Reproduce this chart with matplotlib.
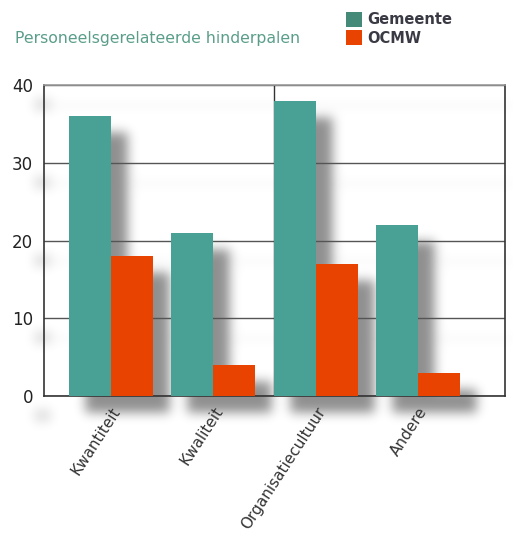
import numpy as np
import matplotlib
matplotlib.use('Agg')
import matplotlib.pyplot as plt

categories = ['Kwantiteit', 'Kwaliteit', 'Organisatiecultuur', 'Andere']
gemeente = [36, 21, 38, 22]
ocmw = [18, 4, 17, 3]
series_names = ['Gemeente', 'OCMW']
yticks = [0, 10, 20, 30, 40]

teal = '#49a094'
orange = '#e84300'

W, H = 513, 534
fig = plt.figure(figsize=(W / 100, H / 100), dpi=100)
ax = fig.add_axes([0.0858, 0.2584, 0.8986, 0.5824])
ax.set_facecolor('none')

x = np.arange(len(categories))
w = 0.41

ax.bar(x - w / 2, gemeente, w, color=teal, zorder=3, label=series_names[0])
ax.bar(x + w / 2, ocmw, w, color=orange, zorder=3, label=series_names[1])

ax.set_xlim(-0.655, 3.85)
ax.set_ylim(0, 40)
ax.set_yticks(yticks)
ax.yaxis.grid(True, color='#555555', lw=1)
for gl in ax.get_ygridlines():
    gl.set_zorder(2)
ax.axvline(x[2] - w, color='#333333', lw=1, zorder=2)

# soft drop shadow, rasterised in pixel space and blurred
mask = np.zeros((H, W))
def add_box(x0, y0, x1, y1, weight=1.0, dx=16, dy=16):
    # display coords (origin bottom-left) -> array rows (origin top)
    c0, c1 = int(round(x0 + dx)), int(round(x1 + dx))
    r0, r1 = int(round(H - y1 + dy)), int(round(H - y0 + dy))
    c0, c1 = max(c0, 0), min(c1, W)
    r0, r1 = max(r0, 0), min(r1, H)
    mask[r0:r1, c0:c1] = np.maximum(mask[r0:r1, c0:c1], weight)

for p in ax.patches:
    (bx0, by0), (bx1, by1) = ax.transData.transform([[p.get_x(), 0],
                                                      [p.get_x() + p.get_width(), p.get_height()]])
    add_box(bx0, by0, bx1, by1)
for t in yticks[1:]:
    (gx0, gy), (gx1, _) = ax.transData.transform([[-0.9, t], [3.85, t]])
    add_box(gx0, gy - 2, gx1, gy + 2, weight=0.1, dy=20)
for t in yticks:
    (lx, ly), = ax.transData.transform([[-0.655, t]])
    add_box(lx - 26, ly - 6, lx - 10, ly + 6, weight=0.3, dy=19)

def blur(a, sigma):
    k = np.arange(-3 * sigma, 3 * sigma + 1)
    g = np.exp(-k ** 2 / (2.0 * sigma ** 2))
    g /= g.sum()
    a = np.apply_along_axis(lambda m: np.convolve(m, g, mode='same'), 0, a)
    a = np.apply_along_axis(lambda m: np.convolve(m, g, mode='same'), 1, a)
    return a

alpha = blur(mask, 5.5) * 0.46
shadow = np.zeros((H, W, 4))
shadow[..., :3] = 0.05
shadow[..., 3] = alpha
fig.figimage(shadow, xo=0, yo=0, origin='upper', zorder=-1)

ax.tick_params(axis='y', length=0, labelsize=12, labelcolor='#222222', pad=8)
ax.tick_params(axis='x', length=0, pad=6)
ax.set_xticks(x)
ax.set_xticklabels(categories, rotation=57, ha='right', va='top',
                   rotation_mode='anchor', fontsize=11, color='#333333')
for s in ax.spines.values():
    s.set_color('#333333')
    s.set_linewidth(1.2)
ax.spines['top'].set_color('#999999')

fig.text(0.029, 0.928, 'Personeelsgerelateerde hinderpalen', fontsize=11.3,
         color='#5a9e8a', ha='left', va='center')

handles, labels = ax.get_legend_handles_labels()
leg = fig.legend(handles, labels,
                 loc='upper left', bbox_to_anchor=(0.648, 1.003), frameon=False,
                 handlelength=1.1, handleheight=1.25, handletextpad=0.4,
                 labelspacing=0.2, prop={'weight': 'bold', 'size': 10.5})
for t in leg.get_texts():
    t.set_color('#3a3a45')
leg.legend_handles[0].set_facecolor('#458a78')

fig.savefig('out.png', dpi=100, facecolor='white')
